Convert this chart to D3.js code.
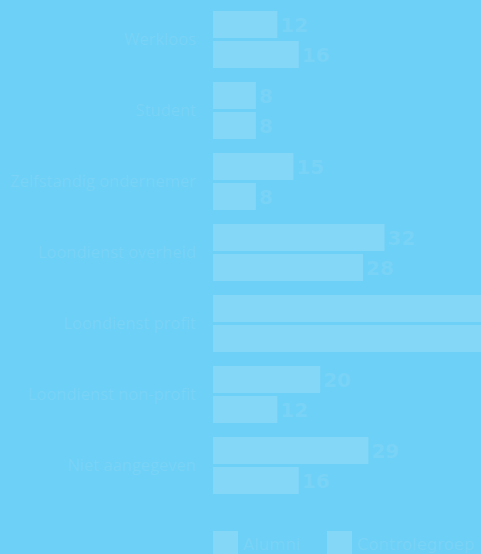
<!DOCTYPE html>
<html>
<head>
<meta charset="utf-8">
<script src="https://cdn.jsdelivr.net/npm/d3@7"></script>
<style>
  html, body { margin: 0; padding: 0; background: #6dd0f6; overflow: hidden; }
  svg { display: block; }
</style>
</head>
<body>
<svg id="chart" width="481" height="554"></svg>
<script>
// chart data
const categories = ['Werkloos', 'Student', 'Zelfstandig ondernemer', 'Loondienst overheid',
  'Loondienst profit', 'Loondienst non-profit', 'Niet aangegeven'];
const alumni = [12, 8, 15, 32, 58, 20, 29];
const controlegroep = [16, 8, 8, 28, 60, 12, 16];
const seriesNames = ['Alumni', 'Controlegroep'];

const colors = {
  bg: '#6dd0f6',
  bar: '#84d7f7',
  text: '#79d3f7'
};

const width = 481;
const svg = d3.select('#chart');
const left = 213;
const groupPitch = 71;
const barH = 27;
const barGap = 3;

const x = d3.scaleLinear().domain([0, 1]).range([0, 5.36]);
const y = d3.scaleBand()
  .domain(categories)
  .range([11, 11 + groupPitch * categories.length])
  .paddingInner(0).paddingOuter(0);

const rows = categories.map((c, i) => ({ cat: c, vals: [alumni[i], controlegroep[i]] }));

const group = svg.selectAll('g.group')
  .data(rows)
  .join('g')
  .attr('class', 'group')
  .attr('transform', d => `translate(0,${y(d.cat)})`);

// category labels, right aligned next to the bars
group.append('text')
  .attr('x', left - 17)
  .attr('y', barH + barGap / 2)
  .attr('dy', '0.35em')
  .attr('text-anchor', 'end')
  .style('font-family', '"Open Sans", sans-serif')
  .style('font-size', '16.5px')
  .style('fill', colors.text)
  .text(d => d.cat);

const bars = group.selectAll('g.bar')
  .data(d => d.vals)
  .join('g')
  .attr('class', 'bar')
  .attr('transform', (d, i) => `translate(${left},${i * (barH + barGap)})`);

bars.append('rect')
  .attr('width', d => x(d))
  .attr('height', barH)
  .attr('fill', colors.bar);

// value labels; the ones that would fall past the right edge are not in view in the original
bars.filter(d => left + x(d) + 3 < width)
  .append('text')
  .attr('x', d => x(d) + 3)
  .attr('y', barH / 2)
  .attr('dy', '0.37em')
  .style('font-family', '"DejaVu Sans", sans-serif')
  .style('font-weight', '700')
  .style('font-size', '20px')
  .style('fill', colors.text)
  .text(d => d);

// legend
const legend = svg.append('g').attr('transform', 'translate(213,531)');
const legendItem = legend.selectAll('g')
  .data(seriesNames)
  .join('g')
  .attr('transform', (d, i) => `translate(${i * 114},0)`);

legendItem.append('rect')
  .attr('width', 25)
  .attr('height', 25)
  .attr('fill', colors.bar);

legendItem.append('text')
  .attr('x', 30)
  .attr('y', 19)
  .style('font-family', '"DejaVu Sans", sans-serif')
  .style('font-size', '16.5px')
  .style('fill', colors.text)
  .text(d => d);
</script>
</body>
</html>
